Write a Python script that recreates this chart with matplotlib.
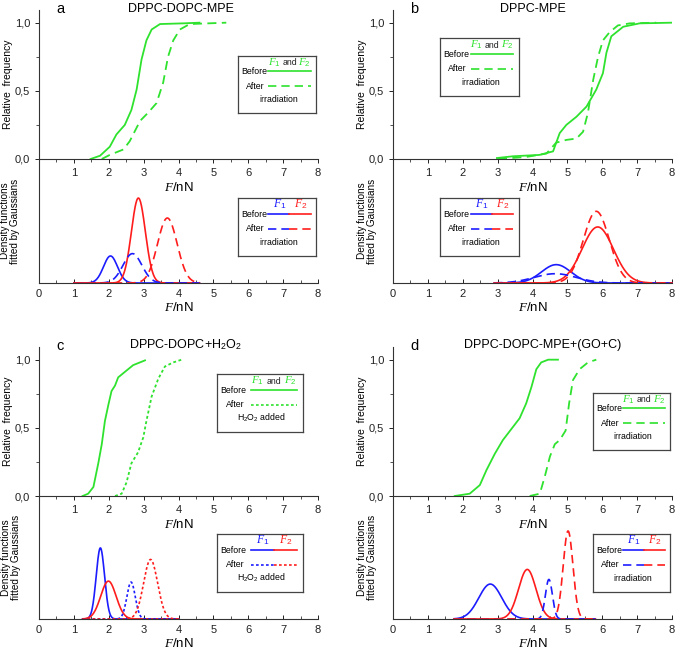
import numpy as np
import matplotlib.pyplot as plt

plt.rcParams['font.family'] = ['Liberation Sans', 'DejaVu Sans']
plt.rcParams['mathtext.fontset'] = 'custom'
plt.rcParams['mathtext.rm'] = 'Liberation Sans'
plt.rcParams['mathtext.it'] = 'Liberation Serif:italic'

# cumulative distributions (F / nN, relative frequency)
a_before_x = [1.48, 1.75, 2.03, 2.22, 2.46, 2.65, 2.80, 2.94, 3.08, 3.23, 3.47, 4.13, 4.6]
a_before_y = [0.0, 0.024, 0.09, 0.18, 0.25, 0.36, 0.51, 0.73, 0.87, 0.95, 0.99, 0.995, 1.0]
a_after_x = [1.8, 2.03, 2.42, 2.6, 2.9, 3.13, 3.37, 3.56, 3.7, 3.85, 4.04, 4.32, 5.37]
a_after_y = [0.0, 0.03, 0.07, 0.13, 0.28, 0.34, 0.41, 0.56, 0.75, 0.87, 0.95, 0.99, 1.0]

b_before_x = [2.98, 3.44, 4.2, 4.59, 4.78, 4.97, 5.26, 5.55, 5.83, 6.02, 6.12, 6.26, 6.6, 7.07, 8.0]
b_before_y = [0.007, 0.02, 0.03, 0.056, 0.19, 0.25, 0.31, 0.385, 0.51, 0.63, 0.78, 0.9, 0.97, 0.995, 1.0]
b_after_x = [3.01, 3.82, 4.4, 4.68, 4.97, 5.26, 5.45, 5.59, 5.74, 5.88, 6.02, 6.21, 6.45, 6.79, 7.55]
b_after_y = [0.0, 0.015, 0.04, 0.12, 0.14, 0.15, 0.2, 0.34, 0.58, 0.75, 0.87, 0.93, 0.98, 0.995, 1.0]

c_before_x = [1.25, 1.41, 1.56, 1.7, 1.8, 1.89, 1.99, 2.08, 2.18, 2.27, 2.46, 2.7, 3.04]
c_before_y = [0.0, 0.017, 0.066, 0.24, 0.38, 0.55, 0.67, 0.77, 0.81, 0.87, 0.91, 0.96, 0.995]
c_after_x = [2.18, 2.37, 2.51, 2.65, 2.84, 2.99, 3.08, 3.23, 3.42, 3.61, 3.85, 4.09]
c_after_y = [0.0, 0.017, 0.1, 0.24, 0.32, 0.43, 0.55, 0.73, 0.86, 0.95, 0.98, 1.0]

d_before_x = [1.77, 2.2, 2.49, 2.68, 2.92, 3.15, 3.39, 3.63, 3.82, 3.97, 4.11, 4.25, 4.45, 4.73]
d_before_y = [0.0, 0.017, 0.08, 0.19, 0.31, 0.41, 0.49, 0.57, 0.68, 0.8, 0.93, 0.98, 1.0, 1.0]
d_after_x = [3.92, 4.21, 4.35, 4.5, 4.64, 4.78, 4.95, 5.05, 5.16, 5.35, 5.59, 5.83]
d_after_y = [0.0, 0.017, 0.14, 0.29, 0.38, 0.41, 0.48, 0.68, 0.85, 0.93, 0.98, 1.0]

# fitted Gaussians: order = F1 before, F2 before, F1 after, F2 after
a_mu = [2.05, 2.85, 2.68, 3.68]
a_sig = [0.2, 0.2, 0.27, 0.28]
a_h = [0.218, 0.685, 0.237, 0.524]
b_mu = [4.68, 5.87, 4.65, 5.83]
b_sig = [0.42, 0.45, 0.6, 0.37]
b_h = [0.148, 0.452, 0.075, 0.578]
c_mu = [1.76, 1.99, 2.64, 3.2]
c_sig = [0.12, 0.22, 0.12, 0.2]
c_h = [0.578, 0.308, 0.30, 0.484]
d_mu = [2.79, 3.85, 4.47, 5.02]
d_sig = [0.33, 0.25, 0.1, 0.14]
d_h = [0.284, 0.403, 0.322, 0.716]

GREEN = '#2ee22e'
BLUE = '#1c1cff'
RED = '#ff1c1c'
W, H = 677, 653


def box(l, t, r, b):
    return [l / W, 1 - b / H, (r - l) / W, (b - t) / H]


fig = plt.figure(figsize=(W / 100, H / 100), dpi=100)


def style(ax, top, dens_x):
    for s in ['top', 'right']:
        ax.spines[s].set_visible(False)
    for s in ['left', 'bottom']:
        ax.spines[s].set_linewidth(0.8)
        ax.spines[s].set_color('#333333')
    ax.set_xlim(0, 8)
    ax.set_xticks(np.arange(0, 9))
    ax.set_xticks(np.arange(0.5, 8, 1), minor=True)
    ax.tick_params(labelsize=8, colors='#222222', length=3, width=0.7)
    ax.tick_params(which='minor', length=2, width=0.6, colors='#333333')
    if top:
        ax.set_ylim(0, 1.093)
        ax.set_xticklabels([''] + [str(i) for i in range(1, 9)])
        ax.tick_params(axis='x', which='both', direction='out')
        ax.set_yticks([0, 0.5, 1.0])
        ax.set_yticklabels(['0,0', '0,5', '1,0'])
        ax.set_yticks([0.25, 0.75], minor=True)
        ax.set_ylabel('Relative  frequency', fontsize=7.5)
        ax.yaxis.set_label_coords(-0.094, 0.5)
    else:
        ax.set_ylim(0, 1)
        ax.set_yticks([])
        ax.tick_params(axis='x', which='both', direction='in', pad=4)
        ax.set_ylabel('Density functions\nfitted by Gaussians', fontsize=7.2, linespacing=0.95)
        ax.yaxis.set_label_coords(dens_x, 0.5)
    ax.set_xlabel('$F$/nN', fontsize=9.5, labelpad=2)
    ax.patch.set_alpha(0)


def key(l, t, r, b, split, ls, note):
    k = fig.add_axes(box(l, t, r, b))
    k.set_xlim(0, 1)
    k.set_ylim(0, 1)
    k.set_xticks([])
    k.set_yticks([])
    for s in k.spines.values():
        s.set_linewidth(0.9)
        s.set_color('#444444')
    k.text(0.04, 0.72, 'Before', fontsize=6.3, va='center')
    k.text(0.1, 0.47, 'After', fontsize=6.3, va='center')
    k.text(0.52, 0.24, note, fontsize=6.3, va='center', ha='center')
    if split:
        k.plot([0.39, 0.66], [0.73, 0.73], color=BLUE, lw=1.2)
        k.plot([0.66, 0.93], [0.73, 0.73], color=RED, lw=1.2)
        k.plot([0.39, 0.66], [0.47, 0.47], color=BLUE, lw=1.2, ls=ls)
        k.plot([0.66, 0.93], [0.47, 0.47], color=RED, lw=1.2, ls=ls)
        k.text(0.53, 0.78, '$F_1$', color=BLUE, fontsize=8.5, ha='center', va='bottom')
        k.text(0.8, 0.78, '$F_2$', color=RED, fontsize=8.5, ha='center', va='bottom')
    else:
        k.plot([0.39, 0.93], [0.73, 0.73], color=GREEN, lw=1.2)
        k.plot([0.39, 0.93], [0.47, 0.47], color=GREEN, lw=1.2, ls=ls)
        k.text(0.545, 0.78, '$F_1$', color=GREEN, fontsize=8, ha='right', va='bottom')
        k.text(0.66, 0.8, 'and', color='#222222', fontsize=6.3, ha='center', va='bottom')
        k.text(0.775, 0.78, '$F_2$', color=GREEN, fontsize=8, ha='left', va='bottom')


panels = [
    dict(pos=(39, 10, 318, 159, 283), letter='a', title='DPPC-DOPC-MPE', tx=181, dx=-0.068,
         bx=a_before_x, by=a_before_y, ax_=a_after_x, ay=a_after_y,
         mu=a_mu, sig=a_sig, h=a_h, rng=(1.0, 4.6), ls=(0, (5, 3)), note='irradiation',
         k1=(238, 56, 316, 113), k2=(238, 198, 316, 256)),
    dict(pos=(393, 10, 672, 159, 283), letter='b', title='DPPC-MPE', tx=533, dx=-0.058,
         bx=b_before_x, by=b_before_y, ax_=b_after_x, ay=b_after_y,
         mu=b_mu, sig=b_sig, h=b_h, rng=(2.9, 8.0), ls=(0, (5, 3)), note='irradiation',
         k1=(440, 38, 519, 96), k2=(440, 198, 519, 256)),
    dict(pos=(39, 347, 318, 496, 619), letter='c', title='DPPC-DOPC+H$_2$O$_2$', tx=185, dx=-0.066,
         bx=c_before_x, by=c_before_y, ax_=c_after_x, ay=c_after_y,
         mu=c_mu, sig=c_sig, h=c_h, rng=(1.25, 4.0), ls=(0, (1.6, 1.4)), note='H$_2$O$_2$ added',
         k1=(217, 374, 303, 432), k2=(217, 534, 303, 592)),
    dict(pos=(393, 347, 672, 496, 619), letter='d', title='DPPC-DOPC-MPE+(GO+C)', tx=543, dx=-0.058,
         bx=d_before_x, by=d_before_y, ax_=d_after_x, ay=d_after_y,
         mu=d_mu, sig=d_sig, h=d_h, rng=(1.75, 5.8), ls=(0, (5, 3)), note='irradiation',
         k1=(593, 393, 670, 450), k2=(593, 534, 670, 592)),
]

for p in panels:
    l, t, r, m, b = p['pos']
    top = fig.add_axes(box(l, t, r, m))
    bot = fig.add_axes(box(l, m, r, b))
    style(bot, False, p['dx'])
    style(top, True, p['dx'])
    top.plot(p['bx'], p['by'], color=GREEN, lw=1.3)
    top.plot(p['ax_'], p['ay'], color=GREEN, lw=1.3, ls=p['ls'])
    xs = np.linspace(p['rng'][0], p['rng'][1], 300)
    cols = [BLUE, RED, BLUE, RED]
    styles = ['-', '-', p['ls'], p['ls']]
    for mu, sg, hh, c, s in zip(p['mu'], p['sig'], p['h'], cols, styles):
        bot.plot(xs, hh * np.exp(-0.5 * ((xs - mu) / sg) ** 2), color=c, lw=1.2, ls=s, clip_on=False)
    fig.text((l + 17) / W, 1 - (t + 3) / H, p['letter'], fontsize=10.5, va='baseline')
    fig.text(p['tx'] / W, 1 - (t + 1.5) / H, p['title'], fontsize=9, ha='center', va='baseline')
    key(*p['k1'], False, p['ls'], p['note'])
    key(*p['k2'], True, p['ls'], p['note'])

fig.savefig('out.png', dpi=100)
